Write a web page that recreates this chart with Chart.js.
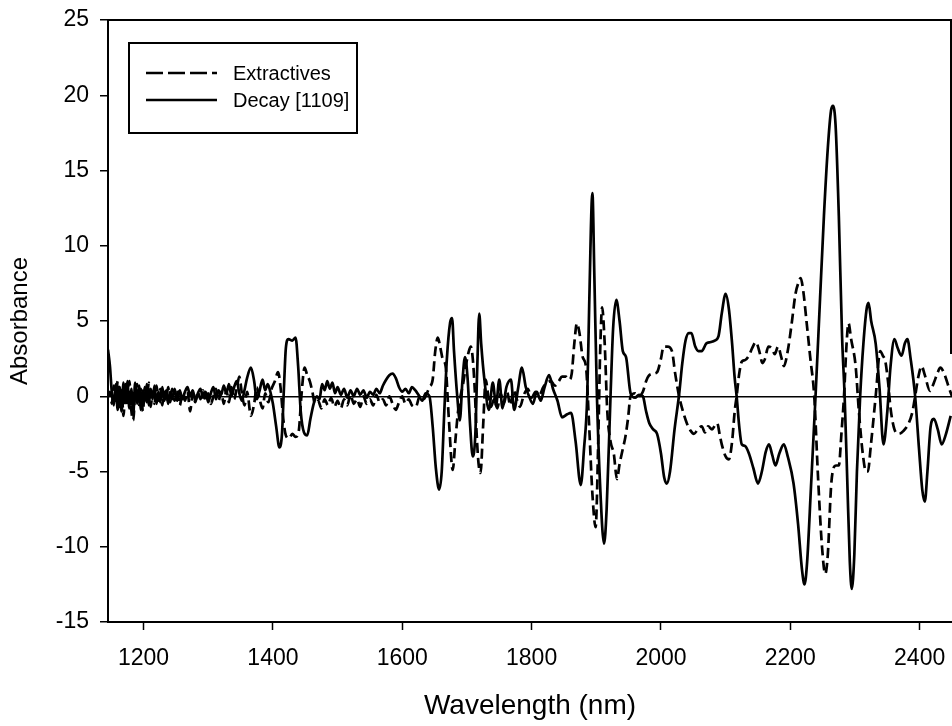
<!DOCTYPE html>
<html>
<head>
<meta charset="utf-8">
<script src="https://cdn.jsdelivr.net/npm/chart.js@4.4.1/dist/chart.umd.min.js"></script>
<style>
  html, body { margin: 0; padding: 0; background: #fff; overflow: hidden; }
  #wrap { width: 952px; height: 726px; }
</style>
</head>
<body>
<div id="wrap"><canvas id="spectraChart" width="952" height="726"></canvas></div>
<script>
// second derivative spectra
const xTicks = [1200, 1400, 1600, 1800, 2000, 2200, 2400];
const yTicks = [-15, -10, -5, 0, 5, 10, 15, 20, 25];

const extrNm = [
  1145, 1148, 1151, 1154, 1157, 1160, 1163, 1166, 1169, 1172, 1175, 1178, 1181, 1184, 1187, 1190,
  1193, 1196, 1199, 1202, 1205, 1208, 1211, 1214, 1217, 1220, 1223, 1226, 1229, 1232, 1235, 1238,
  1241, 1244, 1248, 1252, 1256, 1260, 1264, 1268, 1272, 1276, 1280, 1284, 1288, 1292, 1296, 1300,
  1304, 1308, 1312, 1316, 1320, 1324, 1328, 1332, 1336, 1340, 1344, 1348, 1352, 1356, 1360, 1366,
  1371, 1375, 1380, 1384, 1388, 1393, 1398, 1403, 1408, 1412, 1416, 1420, 1425, 1430, 1435, 1440,
  1444, 1449, 1453, 1457, 1461, 1465, 1470, 1475, 1480, 1485, 1490, 1495, 1500, 1505, 1510, 1515,
  1520, 1525, 1530, 1535, 1540, 1545, 1550, 1555, 1560, 1565, 1570, 1575, 1580, 1585, 1590, 1595,
  1600, 1605, 1610, 1615, 1621, 1627, 1633, 1638, 1642, 1647, 1651, 1655, 1659, 1663, 1667, 1672,
  1678, 1682, 1686, 1690, 1694, 1699, 1703, 1706, 1709, 1712, 1715, 1718, 1721, 1725, 1729, 1733,
  1737, 1742, 1747, 1752, 1757, 1762, 1767, 1772, 1777, 1782, 1788, 1794, 1800, 1806, 1812, 1818,
  1824, 1830, 1836, 1842, 1847, 1853, 1858, 1862, 1866, 1870, 1874, 1879, 1884, 1889, 1894, 1899,
  1903, 1906, 1909, 1913, 1917, 1922, 1927, 1932, 1936, 1941, 1945, 1949, 1953, 1960, 1966, 1972,
  1977, 1981, 1988, 1994, 2000, 2004, 2010, 2017, 2022, 2028, 2034, 2040, 2046, 2051, 2057, 2063,
  2068, 2073, 2079, 2084, 2087, 2091, 2094, 2100, 2105, 2110, 2114, 2117, 2121, 2125, 2130, 2136,
  2141, 2147, 2152, 2157, 2161, 2166, 2171, 2176, 2181, 2186, 2190, 2196, 2202, 2208, 2213, 2216,
  2220, 2225, 2231, 2237, 2243, 2249, 2254, 2258, 2263, 2267, 2271, 2275, 2279, 2283, 2287, 2290,
  2294, 2301, 2306, 2312, 2317, 2320, 2324, 2332, 2339, 2343, 2347, 2351, 2355, 2361, 2368, 2375,
  2383, 2389, 2393, 2398, 2403, 2408, 2416, 2422, 2428, 2432, 2438, 2445, 2450
];
const extrAbs = [
  0.0, 0.3, -0.5, 0.7, -0.3, 1.0, -0.7, 0.4, -1.3, 0.8, -0.6, 1.0, -0.9, -1.6, 0.3, 0.8,
  -0.7, 0.5, -1.0, 0.6, -0.4, 0.9, -0.7, 0.3, -0.5, 0.7, -0.3, 0.5, -0.6, 0.3, -0.2, 0.6,
  -0.4, 0.5, -0.3, 0.4, -0.6, 0.2, -0.3, 0.3, -1.0, 0.2, -0.4, 0.3, -0.2, 0.4, -0.3, 0.2,
  -0.5, 0.0, 0.5, -0.3, 0.3, -0.5, 0.4, -0.4, 0.6, -0.2, 0.5, 1.3, 0.2, -0.6, 0.3, -1.3,
  -0.5, 0.6, -0.3, -0.8, 0.2, -0.4, 0.5, 1.0, 1.6, 0.5, -1.5, -2.6, -2.8, -2.5, -2.7, -2.3,
  0.0, 1.9, 1.4, 1.0, 0.3, -0.5, -0.3, -0.8, -0.2, -0.6, -0.1, -0.7, -0.3, -0.8, -0.2, -0.6,
  0.1, -0.5, -0.2, -0.7, 0.0, -0.5, -0.2, -0.6, 0.1, -0.4, -0.2, -0.6, 0.0, -0.5, -0.9, -0.4,
  0.0, -0.5, -0.2, -0.6, -0.7, 0.0, -0.2, 0.2, 0.6, 1.1, 3.0, 3.9, 3.2, 2.4, 2.0, -1.5,
  -4.9, -3.0, -1.1, 0.0, 0.8, 2.2, 3.0, 3.3, 2.5, 0.5, -2.5, -4.5, -5.1, -2.0, 1.1, 0.0,
  -0.7, -0.2, -0.8, 0.2, -0.5, 0.3, -0.6, 0.4, -0.2, -0.7, 0.1, 0.5, -0.1, 0.3, 0.1, 0.6,
  0.9, 1.0, 0.7, 1.0, 1.3, 1.3, 1.1, 1.5, 3.5, 4.85, 4.2, 2.6, 2.0, -2.0, -6.5, -8.7,
  -3.0, 3.0, 5.9, 3.5, -1.0, -3.0, -3.8, -5.5, -4.5, -3.5, -2.7, -1.5, 0.0, 0.2, 0.0, 0.3,
  1.0, 1.35, 1.5, 1.6, 2.5, 3.3, 3.3, 3.0, 1.5, 0.0, -1.0, -1.8, -2.3, -2.5, -2.2, -2.0,
  -2.4, -2.0, -2.2, -1.9, -1.8, -2.6, -3.2, -4.0, -4.2, -3.0, -1.0, 0.0, 1.5, 2.3, 2.4, 2.7,
  3.2, 3.6, 3.0, 2.2, 2.5, 3.3, 3.2, 2.8, 3.3, 2.6, 2.0, 3.0, 4.8, 6.8, 7.6, 7.85,
  7.0, 5.0, 2.5, 0.0, -5.5, -10.0, -11.8, -10.5, -6.0, -4.75, -4.6, -4.6, -2.5, 0.0, 3.5, 4.85,
  3.8, 2.0, -1.0, -3.8, -5.0, -5.0, -3.5, 0.0, 3.0, 2.7, 2.3, 1.0, -0.8, -2.2, -2.5, -2.3,
  -1.8, -1.0, 0.0, 1.3, 2.0, 1.4, 0.35, 0.9, 1.6, 1.9, 1.5, 0.6, 0.0
];

const decayNm = [
  1145, 1148, 1151, 1154, 1157, 1160, 1163, 1166, 1169, 1172, 1175, 1178, 1181, 1184, 1187, 1190,
  1193, 1196, 1199, 1202, 1205, 1208, 1211, 1214, 1217, 1220, 1223, 1226, 1229, 1232, 1235, 1238,
  1241, 1244, 1248, 1252, 1256, 1260, 1264, 1268, 1272, 1276, 1280, 1284, 1288, 1292, 1296, 1300,
  1304, 1308, 1312, 1316, 1320, 1324, 1328, 1332, 1336, 1340, 1344, 1348, 1352, 1356, 1360, 1366,
  1371, 1375, 1379, 1384, 1388, 1392, 1396, 1400, 1405, 1410, 1414, 1417, 1420, 1424, 1430, 1435,
  1439, 1443, 1448, 1453, 1458, 1463, 1468, 1472, 1476, 1480, 1484, 1488, 1492, 1496, 1500, 1505,
  1510, 1515, 1520, 1525, 1530, 1535, 1540, 1545, 1550, 1555, 1560, 1565, 1570, 1575, 1580, 1585,
  1590, 1595, 1600, 1605, 1610, 1615, 1620, 1625, 1631, 1636, 1642, 1647, 1652, 1657, 1661, 1665,
  1669, 1674, 1677, 1680, 1685, 1689, 1693, 1697, 1701, 1705, 1709, 1713, 1716, 1719, 1722, 1727,
  1734, 1740, 1745, 1750, 1755, 1761, 1768, 1773, 1779, 1785, 1791, 1796, 1802, 1808, 1814, 1820,
  1827, 1833, 1840, 1847, 1855, 1861, 1868, 1876, 1881, 1886, 1889, 1894, 1897, 1901, 1906, 1912,
  1916, 1922, 1926, 1931, 1936, 1941, 1946, 1953, 1960, 1966, 1972, 1977, 1982, 1988, 1994, 2000,
  2005, 2009, 2014, 2021, 2028, 2033, 2038, 2043, 2047, 2053, 2058, 2063, 2070, 2077, 2083, 2089,
  2094, 2100, 2105, 2110, 2114, 2117, 2121, 2125, 2130, 2136, 2143, 2150, 2156, 2162, 2167, 2172,
  2177, 2183, 2190, 2196, 2205, 2212, 2218, 2222, 2226, 2232, 2239, 2246, 2252, 2258, 2263, 2266,
  2270, 2275, 2280, 2284, 2288, 2292, 2295, 2299, 2303, 2308, 2313, 2318, 2321, 2325, 2332, 2338,
  2344, 2350, 2355, 2361, 2366, 2372, 2377, 2381, 2386, 2393, 2399, 2404, 2408, 2412, 2417, 2422,
  2428, 2434, 2440, 2448
];
const decayAbs = [
  3.1, 2.0, 0.2, -0.6, 0.8, -0.9, 0.6, -1.0, 0.9, -0.4, 1.0, -0.8, 0.5, -1.2, 0.9, -0.5,
  0.7, -0.9, 0.4, -0.3, 0.8, -0.6, 0.5, -0.2, 0.7, -0.5, 0.3, -0.4, 0.6, -0.3, 0.4, -0.5,
  0.3, -0.2, 0.5, -0.3, 0.4, -0.2, 0.3, 0.6, 0.0, 0.4, -0.3, 0.2, 0.5, -0.1, 0.3, -0.4,
  0.2, 0.6, -0.2, 0.4, 0.1, 0.7, 0.2, 0.8, 0.0, 0.6, 1.0, 0.2, -0.3, 0.4, 1.2, 1.9,
  1.0, -0.2, 0.3, 1.1, 0.4, 0.8, 0.3, -0.5, -2.0, -3.4, -2.5, 0.5, 3.2, 3.8, 3.7, 3.9,
  2.0, -1.0, -2.4, -2.6, -1.5, -0.5, 0.0, -0.2, 0.8, 0.4, 1.0, 0.5, 0.9, 0.2, 0.6, 0.1,
  0.5, -0.1, 0.4, 0.0, 0.5, 0.1, 0.4, -0.1, 0.3, 0.1, 0.5, 0.2, 0.7, 1.1, 1.4, 1.5,
  1.2, 0.6, 0.3, 0.5, 0.2, 0.6, 0.4, 0.1, -0.3, 0.2, 0.0, -2.0, -4.8, -6.2, -5.0, -1.0,
  2.5, 4.9, 5.2, 3.0, 0.0, -1.6, 1.0, 2.6, 1.2, -2.0, -4.0, -2.5, 2.0, 5.5, 3.5, 1.1,
  -0.9, 0.9, -0.6, 1.1, -0.8, 0.6, 1.1, -0.9, 0.5, 1.9, 0.6, 0.0, -0.5, 0.3, -0.3, 0.6,
  1.4, 0.5, -0.3, -1.4, -1.2, -1.1, -3.0, -5.9, -3.5, 0.0, 6.0, 13.5, 8.0, 0.0, -6.0, -9.8,
  -7.5, 0.0, 4.5, 6.4, 5.0, 3.0, 2.6, 0.2, -0.1, 0.1, 0.0, -1.0, -1.8, -2.2, -2.5, -3.8,
  -5.4, -5.8, -5.0, -2.2, 0.1, 2.2, 3.7, 4.2, 4.2, 3.3, 3.0, 3.0, 3.5, 3.6, 3.7, 4.0,
  5.5, 6.8, 5.8, 3.5, 1.2, 0.0, -2.0, -3.2, -3.3, -3.8, -4.8, -5.8, -5.0, -3.7, -3.2, -3.9,
  -4.6, -3.8, -3.2, -4.0, -5.8, -8.5, -11.5, -12.5, -11.0, -6.0, 0.0, 6.5, 12.0, 16.5, 19.0, 19.3,
  18.0, 12.0, 4.0, 0.0, -5.5, -11.0, -12.8, -10.5, -5.0, 0.0, 3.5, 5.8, 6.2, 5.0, 3.5, 0.5,
  -3.2, -1.0, 2.0, 3.8, 3.2, 2.7, 3.5, 3.8, 2.5, 0.0, -3.5, -6.2, -7.0, -5.0, -2.0, -1.5,
  -2.2, -3.2, -2.6, -1.3
];

const seriesNames = ["Extractives", "Decay [1109]"];

const toPoints = (xs, ys) => xs.map((x, i) => ({ x: x, y: ys[i] }));
const fontFamily = "'Liberation Sans', Arial, sans-serif";

// box around the plot (top edge + part of the right edge) and the legend box
const frameAndLegend = {
    id: "frameAndLegend",
    afterDraw(chart) {
        const { ctx, chartArea } = chart;
        const yScale = chart.scales.y;
        ctx.save();
        ctx.strokeStyle = "#000";
        ctx.lineWidth = 2;
        ctx.beginPath();
        ctx.moveTo(chartArea.left, chartArea.top);
        ctx.lineTo(chartArea.right - 1, chartArea.top);
        ctx.lineTo(chartArea.right - 1, yScale.getPixelForValue(2.8));
        ctx.stroke();

        const bx = chartArea.left + 21, by = chartArea.top + 23, bw = 228, bh = 90;
        ctx.fillStyle = "#fff";
        ctx.fillRect(bx, by, bw, bh);
        ctx.strokeRect(bx, by, bw, bh);

        chart.data.datasets.forEach((ds, i) => {
            const ly = by + 30 + i * 27;
            ctx.beginPath();
            ctx.setLineDash(ds.borderDash ? [17, 5] : []);
            ctx.lineWidth = 2.5;
            ctx.moveTo(bx + 17, ly);
            ctx.lineTo(bx + 88, ly);
            ctx.stroke();
            ctx.setLineDash([]);
            ctx.fillStyle = "#000";
            ctx.font = "20px " + fontFamily;
            ctx.textBaseline = "middle";
            ctx.textAlign = "left";
            ctx.fillText(ds.label, bx + 104, ly + 1);
        });
        ctx.restore();
    }
};

const spectraConfig = {
    type: "line",
    data: {
        datasets: [
            {
                label: seriesNames[0],
                data: toPoints(extrNm, extrAbs),
                borderColor: "#000",
                borderWidth: 2.7,
                borderDash: [10, 5],
                pointRadius: 0,
                cubicInterpolationMode: "monotone",
                fill: false,
            },
            {
                label: seriesNames[1],
                data: toPoints(decayNm, decayAbs),
                borderColor: "#000",
                borderWidth: 2.7,
                pointRadius: 0,
                cubicInterpolationMode: "monotone",
                fill: false,
            },
        ],
    },
    options: {
        responsive: false,
        devicePixelRatio: 1,
        animation: false,
        layout: { padding: { top: 20, right: 0, left: 0, bottom: 0 } },
        plugins: {
            legend: { display: false },
            tooltip: { enabled: false },
        },
        scales: {
            x: {
                type: "linear",
                min: 1145,
                max: 2450,
                afterBuildTicks: (scale) => { scale.ticks = xTicks.map(v => ({ value: v })); },
                afterFit: (scale) => { scale.height = 104; scale.paddingRight = 0; },
                border: { display: true, color: "#000", width: 2 },
                grid: { drawOnChartArea: false, drawTicks: true, tickLength: 8, tickColor: "#000", tickWidth: 1.5 },
                ticks: {
                    color: "#000",
                    padding: 15,
                    maxRotation: 0,
                    font: { family: fontFamily, size: 23 },
                    callback: (v) => String(v),
                },
                title: {
                    display: true,
                    text: "Wavelength (nm)",
                    color: "#000",
                    font: { family: fontFamily, size: 28 },
                    padding: { top: 0, bottom: 3 },
                },
            },
            y: {
                min: -15,
                max: 25,
                afterBuildTicks: (scale) => { scale.ticks = yTicks.map(v => ({ value: v })); },
                afterFit: (scale) => { scale.width = 108; scale.paddingTop = 0; scale.paddingBottom = 0; },
                border: { display: true, color: "#000", width: 2 },
                grid: {
                    drawOnChartArea: true,
                    drawTicks: true,
                    tickLength: 8,
                    tickColor: "#000",
                    tickWidth: 1.5,
                    lineWidth: 1.5,
                    color: (ctx) => (ctx.tick && ctx.tick.value === 0 ? "#000" : "rgba(0,0,0,0)"),
                },
                ticks: {
                    color: "#000",
                    padding: 11,
                    font: { family: fontFamily, size: 23 },
                    callback: (v) => String(v),
                },
                title: {
                    display: true,
                    text: "Absorbance",
                    color: "#000",
                    font: { family: fontFamily, size: 24 },
                    padding: { top: 6, bottom: 0 },
                },
            },
        },
    },
    plugins: [frameAndLegend],
};

const spectraChart = new Chart(
    document.getElementById("spectraChart"),
    spectraConfig);
</script>
</body>
</html>
